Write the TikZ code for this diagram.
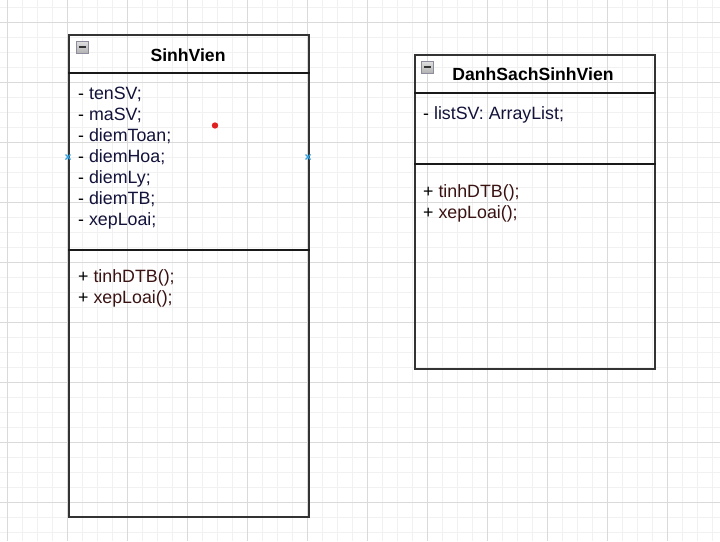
\documentclass[tikz,border=0pt]{standalone}
\usepackage{fontspec}
\setmainfont{Liberation Sans}
\definecolor{gridminor}{HTML}{F1F1F1}
\definecolor{gridmajor}{HTML}{DADADA}
\definecolor{frame}{HTML}{333333}
\definecolor{attrcol}{HTML}{12123A}
\definecolor{methcol}{HTML}{3A1212}
\definecolor{iconborder}{HTML}{8C8C9C}
\definecolor{marker}{HTML}{2EA2E6}
\definecolor{dotred}{HTML}{E02020}
\tikzset{
  minorline/.style={gridminor, line width=1pt},
  majorline/.style={gridmajor, line width=1pt},
  classbox/.style={draw=frame, line width=1.8pt, fill=none, inner sep=0pt, anchor=north west},
  divider/.style={draw=black!90, line width=1.6pt},
  titletext/.style={anchor=base, inner sep=0pt, font=\fontsize{17.6}{21}\selectfont\bfseries},
  membertext/.style={anchor=base west, inner sep=0pt, font=\fontsize{17.8}{21}\selectfont},
  collapseicon/.style={draw=iconborder, line width=0.8pt, top color=white!88!black, bottom color=white!70!black},
  iconbar/.style={draw=black!80, line width=1.4pt},
  crossmark/.style={draw=marker, line width=1.2pt},
}
\newcommand{\attr}[1]{- \textcolor{attrcol}{#1}}
\newcommand{\meth}[1]{+ \textcolor{methcol}{#1}}
\begin{document}
\begin{tikzpicture}[x=1pt,y=-1pt]
\useasboundingbox (0,0) rectangle (720,541);
\fill[white] (0,0) rectangle (720,541);
% grid
\foreach \gx in {7,22,...,712} \draw[minorline] (\gx,0) -- (\gx,541);
\foreach \gy in {7,22,...,532} \draw[minorline] (0,\gy) -- (720,\gy);
\foreach \gx in {7,67,...,667} \draw[majorline] (\gx,0) -- (\gx,541);
\foreach \gy in {22,82,...,502} \draw[majorline] (0,\gy) -- (720,\gy);

% ---- SinhVien ----
\node[classbox, minimum width=240pt, minimum height=482pt] (sv) at (68,34) {};
\draw[divider] ([yshift=-39pt]sv.north west) -- ([yshift=-39pt]sv.north east);
\draw[divider] ([yshift=-216pt]sv.north west) -- ([yshift=-216pt]sv.north east);
\shade[collapseicon] (76.5,41) rectangle (88.5,53);
\draw[iconbar] (79,47) -- (86,47);
\node[titletext] (svtitle) at (188,61) {SinhVien};
\node[membertext] (a1) at (78,99.5) {\attr{tenSV;}};
\node[membertext] (a2) at (78,120.5) {\attr{maSV;}};
\node[membertext] (a3) at (78,141.5) {\attr{diemToan;}};
\node[membertext] (a4) at (78,162.5) {\attr{diemHoa;}};
\node[membertext] (a5) at (78,183.5) {\attr{diemLy;}};
\node[membertext] (a6) at (78,204.5) {\attr{diemTB;}};
\node[membertext] (a7) at (78,225.5) {\attr{xepLoai;}};
\node[membertext] (m1) at (78,282) {\meth{tinhDTB();}};
\node[membertext] (m2) at (78,303) {\meth{xepLoai();}};

% ---- DanhSachSinhVien ----
\node[classbox, minimum width=240pt, minimum height=314pt] (ds) at (414,54) {};
\draw[divider] ([yshift=-39pt]ds.north west) -- ([yshift=-39pt]ds.north east);
\draw[divider] ([yshift=-110pt]ds.north west) -- ([yshift=-110pt]ds.north east);
\shade[collapseicon] (421.5,61) rectangle (433.5,73);
\draw[iconbar] (424,67) -- (431,67);
\node[titletext] (dstitle) at (533,80) {DanhSachSinhVien};
\node[membertext] (b1) at (423,119) {\attr{listSV: ArrayList;}};
\node[membertext] (n1) at (423,197) {\meth{tinhDTB();}};
\node[membertext] (n2) at (423,218) {\meth{xepLoai();}};

% markers
\fill[dotred] (215,125.5) circle (3.2);
\draw[crossmark] (65.5,154.5) -- (70.5,159.5) (65.5,159.5) -- (70.5,154.5);
\draw[crossmark] (305.5,154.5) -- (310.5,159.5) (305.5,159.5) -- (310.5,154.5);
\end{tikzpicture}
\end{document}
